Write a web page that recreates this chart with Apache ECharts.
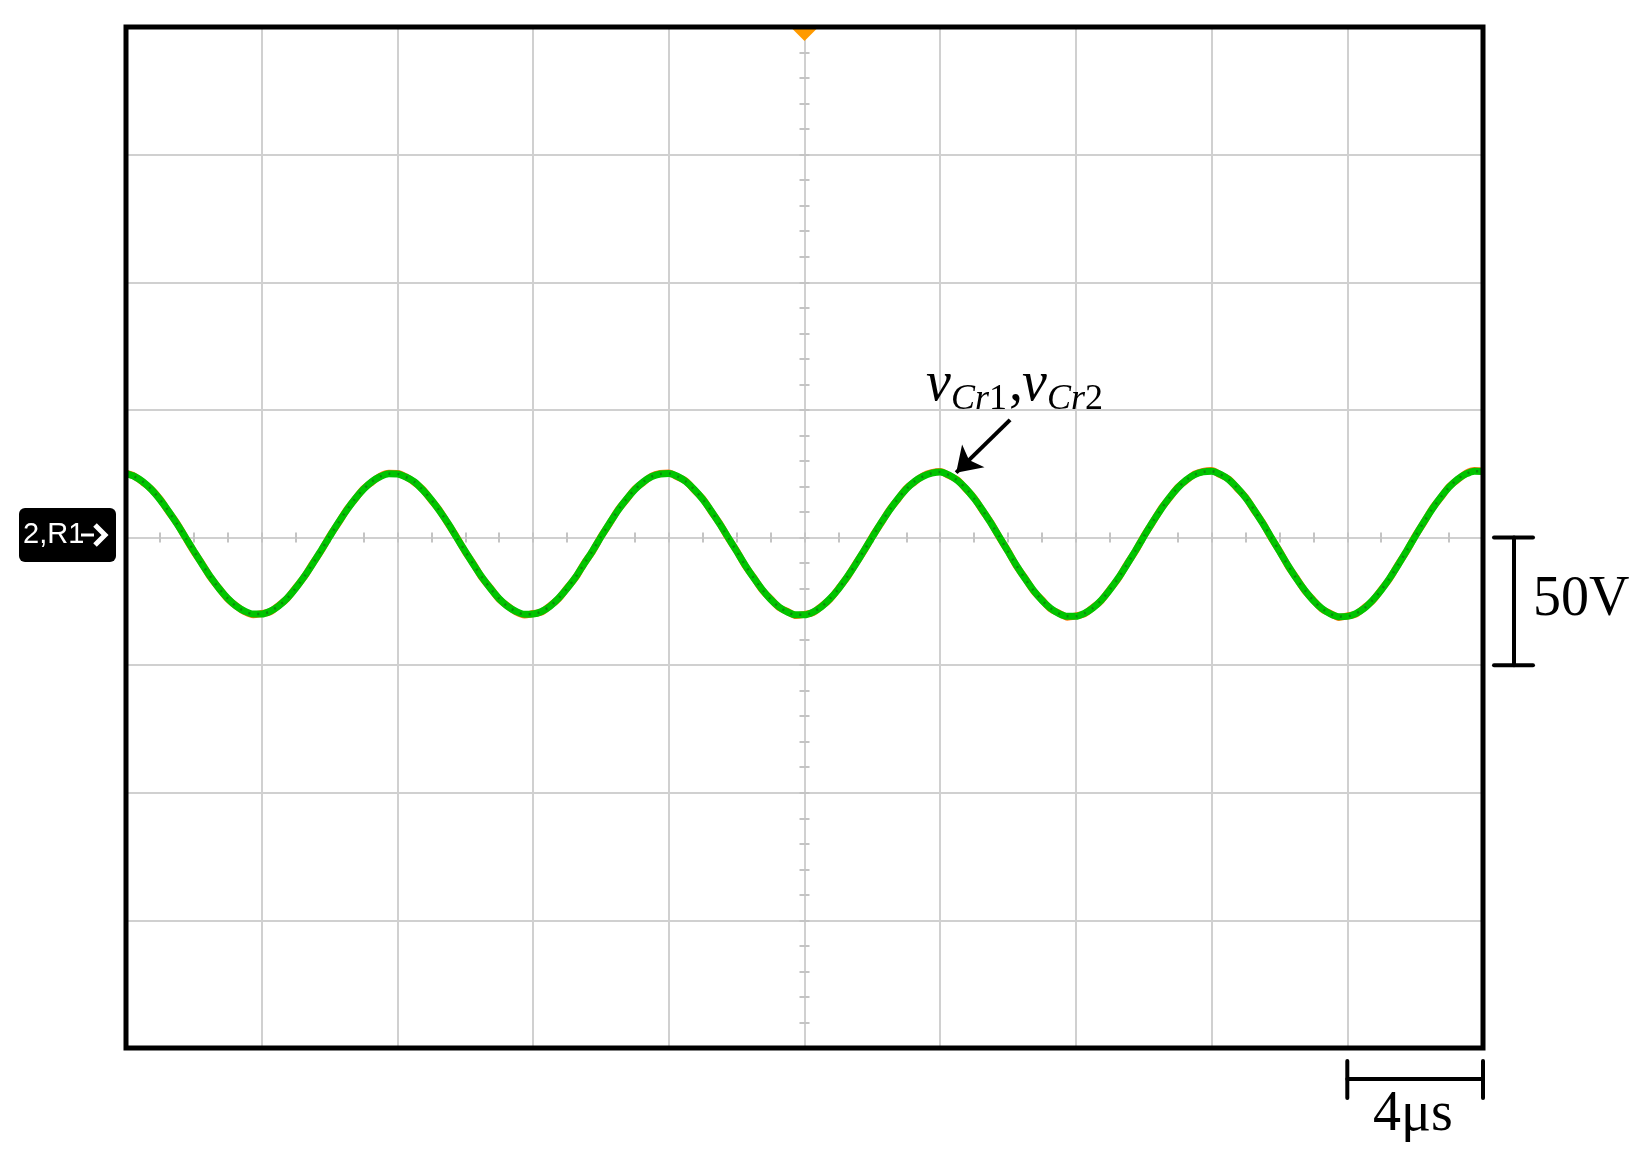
<!DOCTYPE html>
<html><head><meta charset="utf-8">
<script src="https://cdn.jsdelivr.net/npm/echarts@6.0.0/dist/echarts.min.js"></script>
<style>html,body{margin:0;padding:0;background:#fff}#c{width:1648px;height:1157px}</style>
</head><body><div id="c"></div>
<script>
// time axis in µs (4 µs/div, 10 div), voltage in V (50 V/div, 8 div)
const timeUs = [
-20,-19.75,-19.5,-19.25,-19,-18.75,-18.5,-18.25,-18,-17.75,-17.5,-17.25,-17,-16.75,-16.5,-16.25,
-16,-15.75,-15.5,-15.25,-15,-14.75,-14.5,-14.25,-14,-13.75,-13.5,-13.25,-13,-12.75,-12.5,-12.25,
-12,-11.75,-11.5,-11.25,-11,-10.75,-10.5,-10.25,-10,-9.75,-9.5,-9.25,-9,-8.75,-8.5,-8.25,
-8,-7.75,-7.5,-7.25,-7,-6.75,-6.5,-6.25,-6,-5.75,-5.5,-5.25,-5,-4.75,-4.5,-4.25,
-4,-3.75,-3.5,-3.25,-3,-2.75,-2.5,-2.25,-2,-1.75,-1.5,-1.25,-1,-0.75,-0.5,-0.25,
0,0.25,0.5,0.75,1,1.25,1.5,1.75,2,2.25,2.5,2.75,3,3.25,3.5,3.75,
4,4.25,4.5,4.75,5,5.25,5.5,5.75,6,6.25,6.5,6.75,7,7.25,7.5,7.75,
8,8.25,8.5,8.75,9,9.25,9.5,9.75,10,10.25,10.5,10.75,11,11.25,11.5,11.75,
12,12.25,12.5,12.75,13,13.25,13.5,13.75,14,14.25,14.5,14.75,15,15.25,15.5,15.75,
16,16.25,16.5,16.75,17,17.25,17.5,17.75,18,18.25,18.5,18.75,19,19.25,19.5,19.75,
20];
const vCr2 = [
25.0,23.9,21.8,18.8,14.9,10.4,5.4,0.1,-5.3,-10.6,-15.6,-20.1,-23.9,-26.9,-28.9,-30.0,
-30.0,-28.9,-26.8,-23.8,-19.9,-15.4,-10.4,-5.1,0.3,5.6,10.6,15.1,18.9,21.9,23.9,25.0,
24.9,23.7,21.8,18.6,14.8,10.3,5.4,-0.1,-5.4,-10.7,-15.7,-20.1,-24.0,-27.0,-29.0,-30.1,
-30.0,-29.0,-26.9,-23.8,-20.0,-15.6,-10.4,-5.3,0.2,5.5,10.6,15.0,18.8,21.8,23.9,24.9,
25.1,24.0,21.9,18.8,15.0,10.4,5.3,0.0,-5.4,-10.8,-15.8,-20.3,-24.2,-27.2,-29.2,-30.3,
-30.3,-29.2,-27.1,-24.0,-20.2,-15.6,-10.6,-5.2,0.2,5.6,10.6,15.1,19.0,22.0,24.0,25.2,
25.7,24.5,22.4,19.3,15.3,10.7,5.5,0.1,-5.5,-11.0,-16.1,-20.7,-24.6,-27.7,-29.8,-30.9,
-30.9,-29.7,-27.6,-24.5,-20.5,-15.9,-10.7,-5.3,0.3,5.8,10.9,15.5,19.4,22.5,24.6,25.7,
26.0,24.8,22.7,19.5,15.6,10.9,5.7,0.2,-5.4,-10.9,-16.1,-20.7,-24.7,-27.8,-29.9,-31.0,
-30.9,-29.8,-27.7,-24.5,-20.6,-15.9,-10.7,-5.2,0.4,5.9,11.1,15.7,19.7,22.8,24.9,26.0,
25.9];
const vCr1 = [
25.2,24.0,21.6,18.9,15.1,10.2,5.6,0.0,-5.5,-10.4,-15.8,-20.0,-24.1,-26.8,-29.1,-30.3,
-29.8,-29.1,-26.6,-23.9,-19.7,-15.5,-10.2,-5.3,0.5,5.4,10.8,15.0,19.1,21.7,24.1,25.2,
25.1,23.8,21.6,18.8,14.6,10.5,5.2,0.1,-5.6,-10.5,-15.9,-19.9,-24.2,-26.8,-29.2,-30.4,
-29.8,-29.2,-26.7,-24.0,-19.8,-15.8,-10.2,-5.5,0.4,5.3,10.8,14.8,19.0,21.6,24.1,25.1,
25.3,23.8,22.1,18.6,15.2,10.2,5.5,-0.2,-5.2,-11.0,-15.6,-20.5,-24.0,-27.4,-29.0,-30.6,
-30.1,-29.4,-26.9,-24.2,-20.0,-15.8,-10.4,-5.4,0.4,5.4,10.8,14.9,19.2,21.8,24.2,25.4,
25.9,24.3,22.6,19.1,15.5,10.5,5.7,-0.1,-5.3,-11.2,-15.9,-20.9,-24.4,-27.9,-29.6,-31.2,
-30.7,-29.9,-27.4,-24.7,-20.3,-16.1,-10.5,-5.5,0.5,5.6,11.1,15.3,19.6,22.3,24.8,25.9,
26.2,24.6,22.9,19.3,15.8,10.7,5.9,0.0,-5.2,-11.1,-15.9,-20.9,-24.5,-28.0,-29.7,-31.3,
-30.7,-30.0,-27.5,-24.7,-20.4,-16.1,-10.5,-5.4,0.6,5.7,11.3,15.5,19.9,22.6,25.1,26.2,
26.1];
const xRange = [-20, 20], xDiv = 4;
const yRange = [-200, 200], yDiv = 50;
const arrowFrom = [6.06, 46.1], arrowTo = [4.47, 25.4];
const triggerPos = [0, 200];

const gridCol = '#d0d0d0';
const tickStyle = {color: '#c4c4c4', width: 2};
function xAx(pos, idx, split) {
  return {type:'value', position:pos, min:xRange[0], max:xRange[1], interval:xDiv,
    axisLine:{show:true, onZero:true, onZeroAxisIndex:idx, lineStyle:{color:gridCol, width:2}},
    axisTick:{show:true, length:5, lineStyle:tickStyle},
    minorTick:{show:true, splitNumber:4, length:5, lineStyle:tickStyle},
    axisLabel:{show:false}, splitLine:{show:split, lineStyle:{color:gridCol, width:2}}};
}
function yAx(pos, idx, split) {
  return {type:'value', position:pos, min:yRange[0], max:yRange[1], interval:yDiv,
    axisLine:{show:true, onZero:true, onZeroAxisIndex:idx, lineStyle:{color:gridCol, width:2}},
    axisTick:{show:true, length:5, lineStyle:tickStyle},
    minorTick:{show:true, splitNumber:5, length:5, lineStyle:tickStyle},
    axisLabel:{show:false}, splitLine:{show:split, lineStyle:{color:gridCol, width:2}}};
}
const chart = echarts.init(document.getElementById('c'), null, {renderer:'canvas'});
const serif = '"Liberation Serif", "Times New Roman", serif';
const pairs = (arr)=>timeUs.map((t,i)=>[t, arr[i]]);
chart.setOption({
  animation:false,
  backgroundColor:'#fff',
  grid:{left:126, top:27, right:165, bottom:109, show:false, outerBoundsMode:'none'},
  xAxis:[xAx('bottom',0,true), xAx('top',1,false)],
  yAxis:[yAx('left',0,true), yAx('right',1,false)],
  series:[
    {name:'vCr1', type:'line', xAxisIndex:0, yAxisIndex:0, showSymbol:false, smooth:0.3,
     data: pairs(vCr1), lineStyle:{color:'#ff7a10', width:7}, z:3},
    {name:'vCr2', type:'line', xAxisIndex:0, yAxisIndex:0, showSymbol:false, smooth:0.3,
     data: pairs(vCr2), lineStyle:{color:'#00c400', width:7}, z:4,
     markPoint:{silent:true, symbol:'triangle', symbolRotate:180, symbolSize:[24,12], symbolOffset:[0,8],
       itemStyle:{color:'#ff9a00'}, label:{show:false}, data:[{coord:triggerPos}]},
     markLine:{silent:true, symbol:['none','arrow'], symbolSize:24, label:{show:false},
       lineStyle:{color:'#000', width:4, type:'solid'},
       data:[[{coord:arrowFrom},{coord:arrowTo}]]}
    },
    {name:'vCr2 texture', type:'line', xAxisIndex:0, yAxisIndex:0, showSymbol:false, smooth:0.3,
     data: pairs(vCr2), lineStyle:{color:'#0a8a0a', width:2.5, type:[2,7]}, z:5}
  ]
});
const px = (x,y)=>chart.convertToPixel({xAxisIndex:0, yAxisIndex:0}, [x,y]);
const tl = px(xRange[0], yRange[1]), br = px(xRange[1], yRange[0]);
const y0 = px(0,0)[1], y50 = px(0,-yDiv)[1];
const xa = px(xRange[1]-xDiv,0)[0], xb = px(xRange[1],0)[0];
const bx = 1514, by = 1079;
const blk = {stroke:'#000', lineWidth:4, lineCap:'round'};
chart.setOption({graphic:[
  // screen frame
  {type:'rect', z:100, shape:{x:tl[0], y:tl[1], width:br[0]-tl[0], height:br[1]-tl[1]}, style:{fill:null, stroke:'#000', lineWidth:5}},
  // channel label
  {type:'rect', shape:{x:19, y:508, width:97, height:54, r:6}, style:{fill:'#000'}},
  {type:'text', x:23, y:535, style:{text:'2,R1', fill:'#fff', font:'29px "Liberation Sans", Arial, sans-serif', verticalAlign:'middle', align:'left'}},
  {type:'line', shape:{x1:81, y1:535, x2:94, y2:535}, style:{stroke:'#fff', lineWidth:3}},
  {type:'polyline', shape:{points:[[95,525],[105,535],[95,545]]}, style:{stroke:'#fff', lineWidth:5, fill:null}},
  // 50 V scale bar
  {type:'line', shape:{x1:bx, y1:y0, x2:bx, y2:y50}, style:blk},
  {type:'line', shape:{x1:bx-20, y1:y0, x2:bx+19, y2:y0}, style:blk},
  {type:'line', shape:{x1:bx-20, y1:y50, x2:bx+19, y2:y50}, style:blk},
  {type:'text', x:1533, y:600, style:{text:'50V', fill:'#000', font:'56px '+serif, verticalAlign:'middle', align:'left'}},
  // 4 µs scale bar
  {type:'line', shape:{x1:xa, y1:by, x2:xb, y2:by}, style:blk},
  {type:'line', shape:{x1:xa, y1:by-18, x2:xa, y2:by+19}, style:blk},
  {type:'line', shape:{x1:xb, y1:by-18, x2:xb, y2:by+19}, style:blk},
  {type:'text', x:1413, y:1115, style:{text:'4μs', fill:'#000', font:'56px '+serif, verticalAlign:'middle', align:'center'}},
  // annotation v_Cr1, v_Cr2
  {type:'text', x:926, y:385, style:{text:'v', fill:'#000', font:'italic 56px '+serif, verticalAlign:'middle', align:'left'}},
  {type:'text', x:951, y:400, style:{text:'{i|Cr}{n|1}', verticalAlign:'middle', align:'left',
     rich:{i:{fill:'#000', font:'italic 36px '+serif}, n:{fill:'#000', font:'36px '+serif}}}},
  {type:'text', x:1009, y:385, style:{text:',', fill:'#000', font:'56px '+serif, verticalAlign:'middle', align:'left'}},
  {type:'text', x:1022, y:385, style:{text:'v', fill:'#000', font:'italic 56px '+serif, verticalAlign:'middle', align:'left'}},
  {type:'text', x:1047, y:400, style:{text:'{i|Cr}{n|2}', verticalAlign:'middle', align:'left',
     rich:{i:{fill:'#000', font:'italic 36px '+serif}, n:{fill:'#000', font:'36px '+serif}}}}
]});
</script></body></html>
